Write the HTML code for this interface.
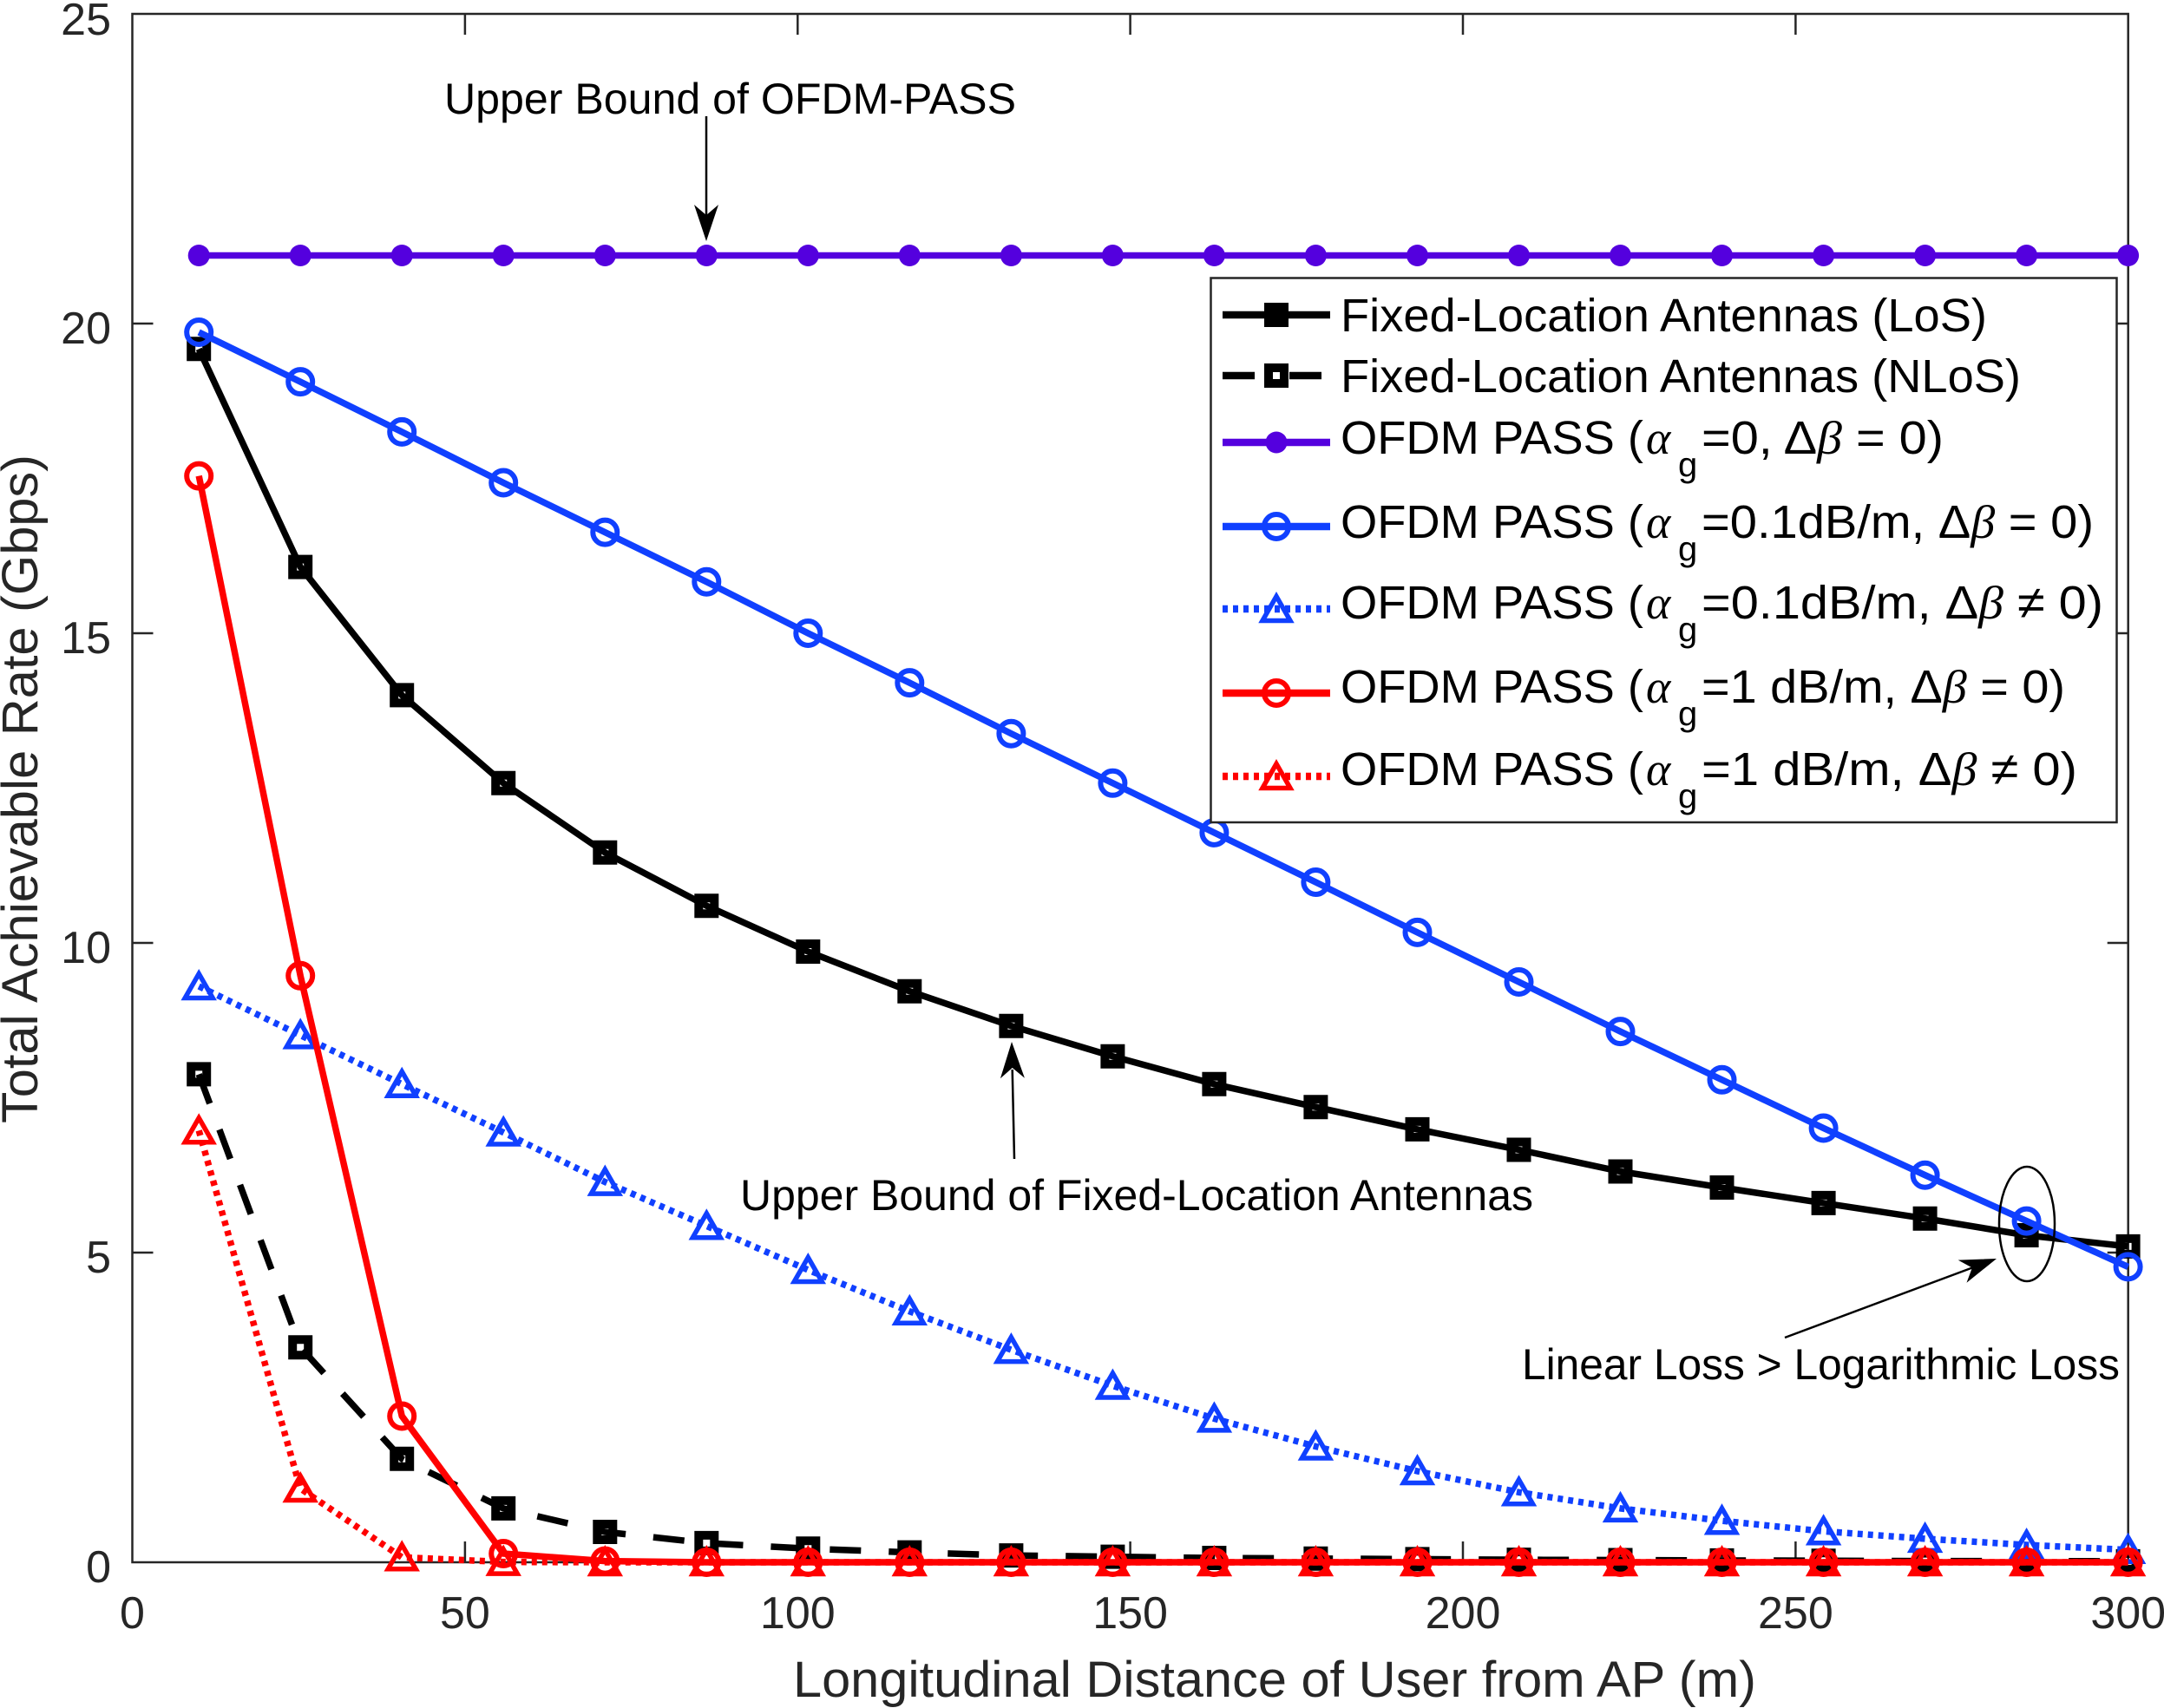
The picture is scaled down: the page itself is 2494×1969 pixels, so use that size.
<!DOCTYPE html>
<html>
<head>
<meta charset="utf-8">
<style>
html,body{margin:0;padding:0;background:#fff;}
svg{display:block;}
text{font-family:"Liberation Sans",Arial,sans-serif;}
.ser{font-family:"Liberation Serif","DejaVu Serif",serif;font-style:italic;}
</style>
</head>
<body>
<svg width="2494" height="1969" viewBox="0 0 2494 1969" xmlns="http://www.w3.org/2000/svg">
<defs>
<path id="sq" d="M-9,-9h18v18h-18z" fill="none" stroke-width="10"/>
<circle id="ci" r="14" fill="none" stroke-width="6"/>
<path id="tr" d="M0,-14.5L16,13.5L-16,13.5Z" fill="none" stroke-width="5.5" stroke-linejoin="miter"/>
<circle id="dt" r="12.5"/>
</defs>
<rect x="0" y="0" width="2494" height="1969" fill="#fff"/>

<!-- axes box -->
<g stroke="#262626" stroke-width="2.5" fill="none">
<rect x="152.5" y="16" width="2300.2" height="1785"/>
<path d="M152.5,1444h24M152.5,1087h24M152.5,730h24M152.5,373h24"/>
<path d="M2452.7,1444h-24M2452.7,1087h-24M2452.7,730h-24M2452.7,373h-24"/>
<path d="M535.9,1801v-24M919.3,1801v-24M1302.6,1801v-24M1686,1801v-24M2069.4,1801v-24"/>
<path d="M535.9,16v24M919.3,16v24M1302.6,16v24M1686,16v24M2069.4,16v24"/>
</g>

<!-- tick labels -->
<g fill="#262626" font-size="52">
<g text-anchor="end">
<text x="128" y="1824">0</text>
<text x="128" y="1467">5</text>
<text x="128" y="1110">10</text>
<text x="128" y="753">15</text>
<text x="128" y="396">20</text>
<text x="128" y="40">25</text>
</g>
<g text-anchor="middle">
<text x="152.5" y="1877">0</text>
<text x="535.9" y="1877">50</text>
<text x="919.3" y="1877">100</text>
<text x="1302.6" y="1877">150</text>
<text x="1686" y="1877">200</text>
<text x="2069.4" y="1877">250</text>
<text x="2452.7" y="1877">300</text>
</g>
</g>

<!-- axis labels -->
<text x="914" y="1956" font-size="58" fill="#262626" textLength="1110" lengthAdjust="spacingAndGlyphs">Longitudinal Distance of User from AP (m)</text>
<text transform="translate(43,910) rotate(-90)" x="-385" y="0" font-size="58" fill="#262626" textLength="771" lengthAdjust="spacingAndGlyphs">Total Achievable Rate (Gbps)</text>

<!-- Fixed-Location LoS -->
<polyline fill="none" stroke="#000" stroke-width="7.5" stroke-linejoin="round" points="229.2,402.3 346.2,653.6 463.2,801.4 580.2,902.8 697.3,982.8 814.3,1044.2 931.3,1097.0 1048.3,1142.7 1165.4,1182.7 1282.4,1217.7 1399.4,1249.8 1516.4,1276.2 1633.5,1301.9 1750.5,1325.5 1867.5,1350.5 1984.5,1369.0 2101.6,1386.9 2218.6,1404.7 2335.6,1424.0 2452.6,1436.9"/>
<g stroke="#000">
<use href="#sq" x="229.2" y="402.3"/><use href="#sq" x="346.2" y="653.6"/><use href="#sq" x="463.2" y="801.4"/><use href="#sq" x="580.2" y="902.8"/><use href="#sq" x="697.3" y="982.8"/><use href="#sq" x="814.3" y="1044.2"/><use href="#sq" x="931.3" y="1097.0"/><use href="#sq" x="1048.3" y="1142.7"/><use href="#sq" x="1165.4" y="1182.7"/><use href="#sq" x="1282.4" y="1217.7"/><use href="#sq" x="1399.4" y="1249.8"/><use href="#sq" x="1516.4" y="1276.2"/><use href="#sq" x="1633.5" y="1301.9"/><use href="#sq" x="1750.5" y="1325.5"/><use href="#sq" x="1867.5" y="1350.5"/><use href="#sq" x="1984.5" y="1369.0"/><use href="#sq" x="2101.6" y="1386.9"/><use href="#sq" x="2218.6" y="1404.7"/><use href="#sq" x="2335.6" y="1424.0"/><use href="#sq" x="2452.6" y="1436.9"/>
</g>

<!-- Fixed-Location NLoS -->
<polyline fill="none" stroke="#000" stroke-width="7.5" stroke-dasharray="36 32" points="229.2,1238.4 346.2,1553.2 463.2,1681.8 580.2,1738.9 697.3,1766 814.3,1778.9 931.3,1785.3 1048.3,1789.6 1165.4,1793.1 1282.4,1794.6 1399.4,1796.0 1516.4,1796.7 1633.5,1797.4 1750.5,1798.1 1867.5,1798.5 1984.5,1798.9 2101.6,1799.2 2218.6,1799.6 2335.6,1799.6 2452.6,1799.9"/>
<g stroke="#000">
<use href="#sq" x="229.2" y="1238.4"/><use href="#sq" x="346.2" y="1553.2"/><use href="#sq" x="463.2" y="1681.8"/><use href="#sq" x="580.2" y="1738.9"/><use href="#sq" x="697.3" y="1766"/><use href="#sq" x="814.3" y="1778.9"/><use href="#sq" x="931.3" y="1785.3"/><use href="#sq" x="1048.3" y="1789.6"/><use href="#sq" x="1165.4" y="1793.1"/><use href="#sq" x="1282.4" y="1794.6"/><use href="#sq" x="1399.4" y="1796.0"/><use href="#sq" x="1516.4" y="1796.7"/><use href="#sq" x="1633.5" y="1797.4"/><use href="#sq" x="1750.5" y="1798.1"/><use href="#sq" x="1867.5" y="1798.5"/><use href="#sq" x="1984.5" y="1798.9"/><use href="#sq" x="2101.6" y="1799.2"/><use href="#sq" x="2218.6" y="1799.6"/><use href="#sq" x="2335.6" y="1799.6"/><use href="#sq" x="2452.6" y="1799.9"/>
</g>

<!-- Purple upper bound -->
<line x1="229.2" y1="294.5" x2="2452.6" y2="294.5" stroke="#5400de" stroke-width="7.5"/>
<g fill="#5400de">
<use href="#dt" x="229.2" y="294.5"/><use href="#dt" x="346.2" y="294.5"/><use href="#dt" x="463.2" y="294.5"/><use href="#dt" x="580.2" y="294.5"/><use href="#dt" x="697.3" y="294.5"/><use href="#dt" x="814.3" y="294.5"/><use href="#dt" x="931.3" y="294.5"/><use href="#dt" x="1048.3" y="294.5"/><use href="#dt" x="1165.4" y="294.5"/><use href="#dt" x="1282.4" y="294.5"/><use href="#dt" x="1399.4" y="294.5"/><use href="#dt" x="1516.4" y="294.5"/><use href="#dt" x="1633.5" y="294.5"/><use href="#dt" x="1750.5" y="294.5"/><use href="#dt" x="1867.5" y="294.5"/><use href="#dt" x="1984.5" y="294.5"/><use href="#dt" x="2101.6" y="294.5"/><use href="#dt" x="2218.6" y="294.5"/><use href="#dt" x="2335.6" y="294.5"/><use href="#dt" x="2452.6" y="294.5"/>
</g>

<!-- Blue solid -->
<polyline fill="none" stroke="#1040ff" stroke-width="7.5" stroke-linejoin="round" points="229.2,383.0 346.2,440.1 463.2,497.9 580.2,556.5 697.3,613.6 814.3,670.7 931.3,730 1048.3,787.1 1165.4,845.7 1282.4,902.8 1399.4,959.9 1516.4,1017.0 1633.5,1074.9 1750.5,1132.0 1867.5,1189.1 1984.5,1244.8 2101.6,1300.5 2218.6,1354.7 2335.6,1407.6 2452.6,1460.4"/>
<g stroke="#1040ff">
<use href="#ci" x="229.2" y="383.0"/><use href="#ci" x="346.2" y="440.1"/><use href="#ci" x="463.2" y="497.9"/><use href="#ci" x="580.2" y="556.5"/><use href="#ci" x="697.3" y="613.6"/><use href="#ci" x="814.3" y="670.7"/><use href="#ci" x="931.3" y="730"/><use href="#ci" x="1048.3" y="787.1"/><use href="#ci" x="1165.4" y="845.7"/><use href="#ci" x="1282.4" y="902.8"/><use href="#ci" x="1399.4" y="959.9"/><use href="#ci" x="1516.4" y="1017.0"/><use href="#ci" x="1633.5" y="1074.9"/><use href="#ci" x="1750.5" y="1132.0"/><use href="#ci" x="1867.5" y="1189.1"/><use href="#ci" x="1984.5" y="1244.8"/><use href="#ci" x="2101.6" y="1300.5"/><use href="#ci" x="2218.6" y="1354.7"/><use href="#ci" x="2335.6" y="1407.6"/><use href="#ci" x="2452.6" y="1460.4"/>
</g>

<!-- Blue dotted -->
<polyline fill="none" stroke="#1040ff" stroke-width="7.5" stroke-dasharray="6 6" points="229.2,1137.0 346.2,1193.4 463.2,1249.8 580.2,1305.5 697.3,1362.6 814.3,1413.3 931.3,1464.0 1048.3,1511.8 1165.4,1556.1 1282.4,1597.5 1399.4,1635.4 1516.4,1667.5 1633.5,1696.0 1750.5,1720.3 1867.5,1738.9 1984.5,1753.2 2101.6,1765.3 2218.6,1773.9 2335.6,1781.0 2452.6,1786.7"/>
<g stroke="#1040ff">
<use href="#tr" x="229.2" y="1137.0"/><use href="#tr" x="346.2" y="1193.4"/><use href="#tr" x="463.2" y="1249.8"/><use href="#tr" x="580.2" y="1305.5"/><use href="#tr" x="697.3" y="1362.6"/><use href="#tr" x="814.3" y="1413.3"/><use href="#tr" x="931.3" y="1464.0"/><use href="#tr" x="1048.3" y="1511.8"/><use href="#tr" x="1165.4" y="1556.1"/><use href="#tr" x="1282.4" y="1597.5"/><use href="#tr" x="1399.4" y="1635.4"/><use href="#tr" x="1516.4" y="1667.5"/><use href="#tr" x="1633.5" y="1696.0"/><use href="#tr" x="1750.5" y="1720.3"/><use href="#tr" x="1867.5" y="1738.9"/><use href="#tr" x="1984.5" y="1753.2"/><use href="#tr" x="2101.6" y="1765.3"/><use href="#tr" x="2218.6" y="1773.9"/><use href="#tr" x="2335.6" y="1781.0"/><use href="#tr" x="2452.6" y="1786.7"/>
</g>

<!-- Red solid -->
<polyline fill="none" stroke="#ff0000" stroke-width="7.5" stroke-linejoin="round" points="229.2,548.6 346.2,1124.8 463.2,1632.5 580.2,1791.0 697.3,1799.6 814.3,1801 931.3,1801 1048.3,1801 1165.4,1801 1282.4,1801 1399.4,1801 1516.4,1801 1633.5,1801 1750.5,1801 1867.5,1801 1984.5,1801 2101.6,1801 2218.6,1801 2335.6,1801 2452.6,1801"/>
<g stroke="#ff0000">
<use href="#ci" x="229.2" y="548.6"/><use href="#ci" x="346.2" y="1124.8"/><use href="#ci" x="463.2" y="1632.5"/><use href="#ci" x="580.2" y="1791.0"/><use href="#ci" x="697.3" y="1799.6"/><use href="#ci" x="814.3" y="1801"/><use href="#ci" x="931.3" y="1801"/><use href="#ci" x="1048.3" y="1801"/><use href="#ci" x="1165.4" y="1801"/><use href="#ci" x="1282.4" y="1801"/><use href="#ci" x="1399.4" y="1801"/><use href="#ci" x="1516.4" y="1801"/><use href="#ci" x="1633.5" y="1801"/><use href="#ci" x="1750.5" y="1801"/><use href="#ci" x="1867.5" y="1801"/><use href="#ci" x="1984.5" y="1801"/><use href="#ci" x="2101.6" y="1801"/><use href="#ci" x="2218.6" y="1801"/><use href="#ci" x="2335.6" y="1801"/><use href="#ci" x="2452.6" y="1801"/>
</g>

<!-- Red dotted -->
<polyline fill="none" stroke="#ff0000" stroke-width="7.5" stroke-dasharray="6 6" points="229.2,1303.3 346.2,1716.0 463.2,1795.3 580.2,1800.6 697.3,1801 814.3,1801 931.3,1801 1048.3,1801 1165.4,1801 1282.4,1801 1399.4,1801 1516.4,1801 1633.5,1801 1750.5,1801 1867.5,1801 1984.5,1801 2101.6,1801 2218.6,1801 2335.6,1801 2452.6,1801"/>
<g stroke="#ff0000">
<use href="#tr" x="229.2" y="1303.3"/><use href="#tr" x="346.2" y="1716.0"/><use href="#tr" x="463.2" y="1795.3"/><use href="#tr" x="580.2" y="1800.6"/><use href="#tr" x="697.3" y="1801"/><use href="#tr" x="814.3" y="1801"/><use href="#tr" x="931.3" y="1801"/><use href="#tr" x="1048.3" y="1801"/><use href="#tr" x="1165.4" y="1801"/><use href="#tr" x="1282.4" y="1801"/><use href="#tr" x="1399.4" y="1801"/><use href="#tr" x="1516.4" y="1801"/><use href="#tr" x="1633.5" y="1801"/><use href="#tr" x="1750.5" y="1801"/><use href="#tr" x="1867.5" y="1801"/><use href="#tr" x="1984.5" y="1801"/><use href="#tr" x="2101.6" y="1801"/><use href="#tr" x="2218.6" y="1801"/><use href="#tr" x="2335.6" y="1801"/><use href="#tr" x="2452.6" y="1801"/>
</g>

<!-- Legend -->
<rect x="1395.5" y="320.5" width="1044" height="627.5" fill="#fff" stroke="#262626" stroke-width="2.5"/>
<g>
<line x1="1409" y1="363" x2="1533" y2="363" stroke="#000" stroke-width="8.5"/>
<use href="#sq" x="1471" y="363" stroke="#000"/>
<line x1="1409" y1="433" x2="1524" y2="433" stroke="#000" stroke-width="8.5" stroke-dasharray="37 40"/>
<use href="#sq" x="1471" y="433" stroke="#000"/>
<line x1="1409" y1="510" x2="1533" y2="510" stroke="#5400de" stroke-width="8.5"/>
<use href="#dt" x="1471" y="510" fill="#5400de"/>
<line x1="1409" y1="607" x2="1533" y2="607" stroke="#1040ff" stroke-width="8.5"/>
<use href="#ci" x="1471" y="607" stroke="#1040ff"/>
<line x1="1409" y1="702" x2="1533" y2="702" stroke="#1040ff" stroke-width="8.5" stroke-dasharray="6 6"/>
<use href="#tr" x="1471" y="702" stroke="#1040ff"/>
<line x1="1409" y1="799" x2="1533" y2="799" stroke="#ff0000" stroke-width="8.5"/>
<use href="#ci" x="1471" y="799" stroke="#ff0000"/>
<line x1="1409" y1="895" x2="1533" y2="895" stroke="#ff0000" stroke-width="8.5" stroke-dasharray="6 6"/>
<use href="#tr" x="1471" y="895" stroke="#ff0000"/>
</g>
<g fill="#000" font-size="54">
<text x="1545" y="382" textLength="745" lengthAdjust="spacingAndGlyphs">Fixed-Location Antennas (LoS)</text>
<text x="1545" y="452" textLength="784" lengthAdjust="spacingAndGlyphs">Fixed-Location Antennas (NLoS)</text>

<text x="1545" y="523" textLength="349" lengthAdjust="spacingAndGlyphs">OFDM PASS (</text>
<text x="1897" y="523" class="ser">α</text>
<text x="1934" y="549" font-size="40">g</text>
<text x="1961" y="523" textLength="279" lengthAdjust="spacingAndGlyphs">=0, Δ<tspan class="ser">β</tspan> = 0)</text>

<text x="1545" y="620" textLength="349" lengthAdjust="spacingAndGlyphs">OFDM PASS (</text>
<text x="1897" y="620" class="ser">α</text>
<text x="1934" y="646" font-size="40">g</text>
<text x="1961" y="620" textLength="452" lengthAdjust="spacingAndGlyphs">=0.1dB/m, Δ<tspan class="ser">β</tspan> = 0)</text>

<text x="1545" y="713" textLength="349" lengthAdjust="spacingAndGlyphs">OFDM PASS (</text>
<text x="1897" y="713" class="ser">α</text>
<text x="1934" y="739" font-size="40">g</text>
<text x="1961" y="713" textLength="463" lengthAdjust="spacingAndGlyphs">=0.1dB/m, Δ<tspan class="ser">β</tspan> ≠ 0)</text>

<text x="1545" y="810" textLength="349" lengthAdjust="spacingAndGlyphs">OFDM PASS (</text>
<text x="1897" y="810" class="ser">α</text>
<text x="1934" y="836" font-size="40">g</text>
<text x="1961" y="810" textLength="419" lengthAdjust="spacingAndGlyphs">=1 dB/m, Δ<tspan class="ser">β</tspan> = 0)</text>

<text x="1545" y="905" textLength="349" lengthAdjust="spacingAndGlyphs">OFDM PASS (</text>
<text x="1897" y="905" class="ser">α</text>
<text x="1934" y="931" font-size="40">g</text>
<text x="1961" y="905" textLength="433" lengthAdjust="spacingAndGlyphs">=1 dB/m, Δ<tspan class="ser">β</tspan> ≠ 0)</text>
</g>

<!-- Annotations -->
<g fill="#000" font-size="50">
<text x="512" y="131" textLength="659" lengthAdjust="spacingAndGlyphs">Upper Bound of OFDM-PASS</text>
<text x="853" y="1395" textLength="914" lengthAdjust="spacingAndGlyphs">Upper Bound of Fixed-Location Antennas</text>
<text x="1754" y="1590" textLength="689" lengthAdjust="spacingAndGlyphs">Linear Loss &gt; Logarithmic Loss</text>
</g>
<g stroke="#000" stroke-width="2.5" fill="none">
<line x1="814" y1="134" x2="814" y2="250"/>
<line x1="1169" y1="1336" x2="1166.7" y2="1233"/>
<line x1="2057" y1="1542" x2="2272.9" y2="1461.5"/>
<ellipse cx="2336" cy="1411" rx="32" ry="66"/>
</g>
<g fill="#000">
<path d="M814,278 L828,236 L814,248 L800,236 Z"/>
<path d="M1166,1201 L1180.9,1242.7 L1166.7,1231 L1152.9,1243.3 Z"/>
<path d="M2301,1451 L2266.5,1478.8 L2272.9,1461.5 L2256.7,1452.6 Z"/>
</g>
</svg>
</body>
</html>
